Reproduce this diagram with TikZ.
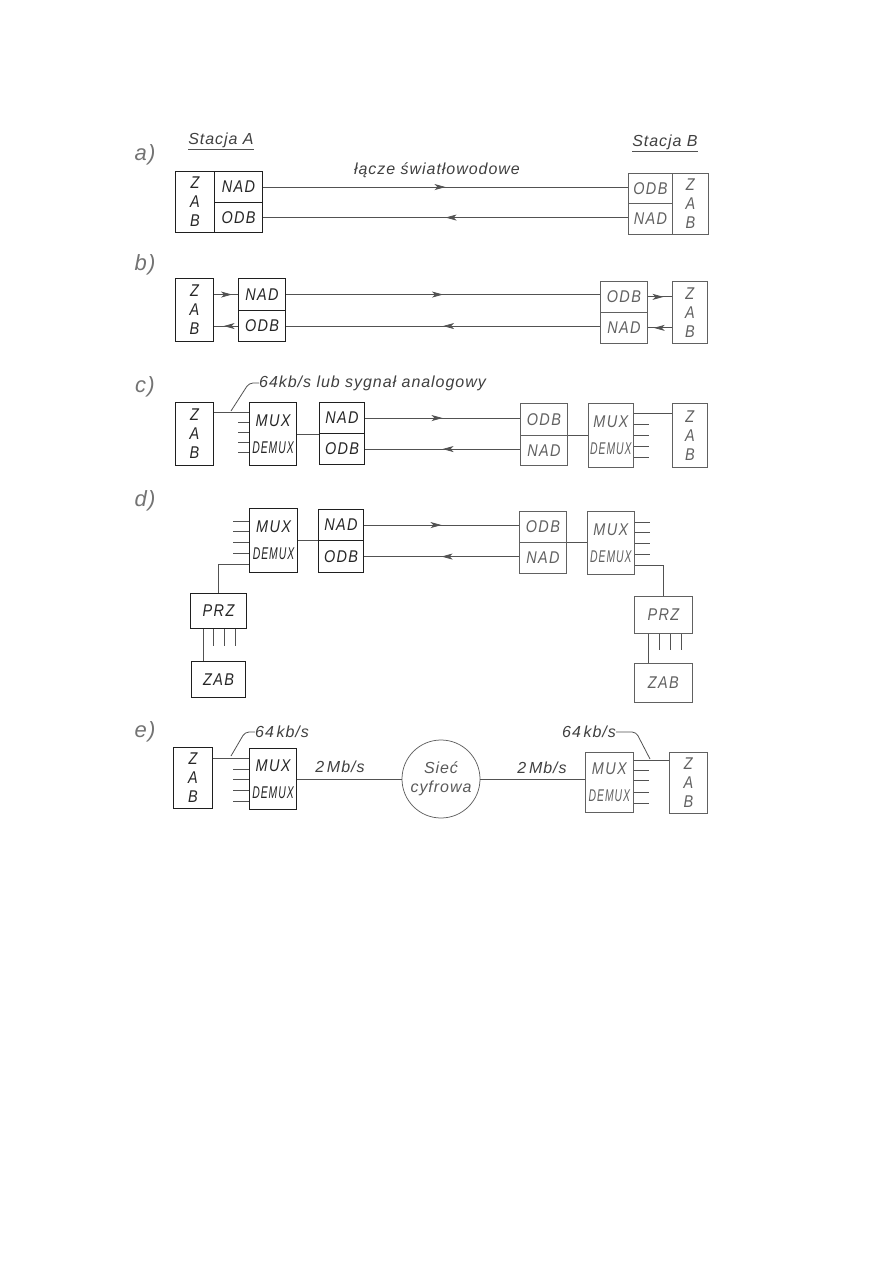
\documentclass[tikz,border=0pt]{standalone}
\usepackage{fontspec}
\usepackage{graphicx}
\setmainfont{Liberation Sans}
\newfontfamily\tf{Liberation Sans}[FakeStretch=0.85,LetterSpace=8]
\newfontfamily\lf{Liberation Sans}[LetterSpace=6]
\usetikzlibrary{arrows.meta,decorations.markings,calc}
\newcommand\dmx{\scalebox{0.72}[1]{DEMUX}}
\tikzset{
  bx/.style={draw=black!80, line width=0.9pt, inner sep=0pt, anchor=north west,
    font=\tf\itshape\fontsize{17}{19}\selectfont, text=black!80},
  bxl/.style={bx, draw=black!88, text=black!85, line width=1.1pt},
  bxr/.style={bx, draw=black!62, text=black!62, line width=0.75pt},
  wire/.style={draw=black!68, line width=0.8pt},
  fwd/.style={wire, postaction={decorate}, decoration={markings,
    mark=at position #1 with {\arrow{Stealth[length=11pt,width=6pt,inset=3pt]}}}},
  bwd/.style={wire, postaction={decorate}, decoration={markings,
    mark=at position #1 with {\arrowreversed{Stealth[length=11pt,width=6pt,inset=3pt]}}}},
  lbl/.style={font=\lf\itshape\fontsize{16}{19}\selectfont, text=black!75, inner sep=0pt},
  sec/.style={font=\lf\itshape\fontsize{22}{24}\selectfont, text=black!55, inner sep=0pt},
}
\begin{document}
\begin{tikzpicture}[x=1pt,y=-1pt]
\fill[white] (0,0) rectangle (893,1263);
\useasboundingbox (0,0) rectangle (893,1263);

% section letters
\node[sec] (la) at (145,155) {a)};
\node[sec] (lb) at (145,265) {b)};
\node[sec] (lc) at (145,387) {c)};
\node[sec] (ld) at (145,501) {d)};
\node[sec] (le) at (145,732) {e)};

% headers
\node[lbl] (stA) at (221,140) {Stacja A};
\draw[wire] ([yshift=-2pt]stA.south west) -- ([yshift=-2pt]stA.south east);
\node[lbl] (stB) at (665,142) {Stacja B};
\draw[wire] ([yshift=-2pt]stB.south west) -- ([yshift=-2pt]stB.south east);

% ---------- a)
\node[bxl,minimum width=39pt,minimum height=61pt,align=center] (aZ) at (175,171) {Z\\A\\B};
\node[bxl,minimum width=48pt,minimum height=31pt] (aN) at (214,171) {NAD};
\node[bxl,minimum width=48pt,minimum height=30pt] (aO) at (214,202) {ODB};
\node[bxr,minimum width=44pt,minimum height=30pt] (aRO) at (628,173) {ODB};
\node[bxr,minimum width=44pt,minimum height=31pt] (aRN) at (628,203) {NAD};
\node[bxr,minimum width=36pt,minimum height=61pt,align=center] (aRZ) at (672,173) {Z\\A\\B};
\node[lbl] (aLink) at (437,170) {łącze światłowodowe};
\draw[fwd=0.5] (aN.east) -- (aN.east -| aRO.west);
\draw[bwd=0.5] (aO.east) -- (aO.east -| aRN.west);

% ---------- b)
\node[bxl,minimum width=38pt,minimum height=63pt,align=center] (bZ) at (175,278) {Z\\A\\B};
\node[bxl,minimum width=47pt,minimum height=32pt] (bN) at (238,278) {NAD};
\node[bxl,minimum width=47pt,minimum height=31pt] (bO) at (238,310) {ODB};
\node[bxr,minimum width=47pt,minimum height=31pt] (bRO) at (600,281) {ODB};
\node[bxr,minimum width=47pt,minimum height=31pt] (bRN) at (600,312) {NAD};
\node[bxr,minimum width=35pt,minimum height=62pt,align=center] (bRZ) at (672,281) {Z\\A\\B};
\draw[fwd=0.75] (bN.west -| bZ.east) -- (bN.west);
\draw[fwd=0.6] (bO.west) -- (bO.west -| bZ.east);
\draw[fwd=0.5] (bN.east) -- (bN.east -| bRO.west);
\draw[bwd=0.5] (bO.east) -- (bO.east -| bRN.west);
\draw[fwd=0.65] (bRO.east) -- (bRO.east -| bRZ.west);
\draw[fwd=0.75] (bRN.east -| bRZ.west) -- (bRN.east);

% ---------- c)
\node[bxl,minimum width=38pt,minimum height=63pt,align=center] (cZ) at (175,402) {Z\\A\\B};
\node[bxl,minimum width=47pt,minimum height=63pt,align=center] (cM) at (249,402) {MUX\\[8pt]\dmx};
\node[bxl,minimum width=45pt,minimum height=31pt] (cN) at (319,402) {NAD};
\node[bxl,minimum width=45pt,minimum height=31pt] (cO) at (319,433) {ODB};
\node[bxr,minimum width=47pt,minimum height=32pt] (cRO) at (520,403) {ODB};
\node[bxr,minimum width=47pt,minimum height=30pt] (cRN) at (520,435) {NAD};
\node[bxr,minimum width=45pt,minimum height=64pt,align=center] (cRM) at (588,403) {MUX\\[8pt]\dmx};
\node[bxr,minimum width=35pt,minimum height=64pt,align=center] (cRZ) at (672,403) {Z\\A\\B};
\coordinate (c1) at ([yshift=-10pt]cM.north west);
\draw[wire] (c1) -- (c1 -| cZ.east);
\foreach \d in {20,30,40,50} \draw[wire] ([yshift=-\d pt]cM.north west) -- ++(-11,0);
\draw[wire] (cM.east) -- (cM.east -| cN.west);
\draw[fwd=0.5] (cN.east) -- (cN.east -| cRO.west);
\draw[bwd=0.5] (cO.east) -- (cO.east -| cRN.west);
\draw[wire] (cRO.south east) -- (cRO.south east -| cRM.west);
\coordinate (c2) at ([yshift=-10pt]cRM.north east);
\draw[wire] (c2) -- (c2 -| cRZ.west);
\foreach \d in {21,32,43,54} \draw[wire] ([yshift=-\d pt]cRM.north east) -- ++(15,0);
\node[lbl,anchor=west] (cL) at (259,383) {64kb/s lub sygnał analogowy};
\coordinate (cLe) at (231,411);
\draw[wire,rounded corners=4pt] (cL.west) -- ++(-10,0) -- (cLe);

% ---------- d)
\node[bxl,minimum width=48pt,minimum height=64pt,align=center] (dM) at (249,508) {MUX\\[8pt]\dmx};
\node[bxl,minimum width=45pt,minimum height=31pt] (dN) at (318,509) {NAD};
\node[bxl,minimum width=45pt,minimum height=32pt] (dO) at (318,540) {ODB};
\node[bxr,minimum width=47pt,minimum height=31pt] (dRO) at (519,511) {ODB};
\node[bxr,minimum width=47pt,minimum height=31pt] (dRN) at (519,542) {NAD};
\node[bxr,minimum width=47pt,minimum height=63pt,align=center] (dRM) at (587,511) {MUX\\[8pt]\dmx};
\node[bxl,minimum width=56pt,minimum height=35pt] (dP) at (190,593) {PRZ};
\node[bxl,minimum width=54pt,minimum height=36pt] (dZ) at (191,661) {ZAB};
\node[bxr,minimum width=58pt,minimum height=37pt] (dRP) at (634,596) {PRZ};
\node[bxr,minimum width=58pt,minimum height=39pt] (dRZ) at (634,663) {ZAB};
\foreach \d in {13,23,34,45} \draw[wire] ([yshift=-\d pt]dM.north west) -- ++(-16,0);
\coordinate (d1) at ([yshift=-56pt]dM.north west);
\draw[wire] (d1) -| (dP.north);
\draw[wire] (dM.east) -- (dM.east -| dN.west);
\draw[fwd=0.5] (dN.east) -- (dN.east -| dRO.west);
\draw[bwd=0.5] (dO.east) -- (dO.east -| dRN.west);
\draw[wire] (dRO.south east) -- (dRO.south east -| dRM.west);
\foreach \d in {11,21,32,43} \draw[wire] ([yshift=-\d pt]dRM.north east) -- ++(15,0);
\coordinate (d2) at ([yshift=-54pt]dRM.north east);
\draw[wire] (d2) -| (dRP.north);
\coordinate (d3) at ([xshift=13pt]dP.south west);
\draw[wire] (d3) -- (d3 |- dZ.north);
\foreach \d in {23,34,45} \draw[wire] ([xshift=\d pt]dP.south west) -- ++(0,17);
\coordinate (d4) at ([xshift=14pt]dRP.south west);
\draw[wire] (d4) -- (d4 |- dRZ.north);
\foreach \d in {25,36,47} \draw[wire] ([xshift=\d pt]dRP.south west) -- ++(0,16);

% ---------- e)
\node[bxl,minimum width=39pt,minimum height=61pt,align=center] (eZ) at (173,747) {Z\\A\\B};
\node[bxl,minimum width=47pt,minimum height=61pt,align=center] (eM) at (249,748) {MUX\\[8pt]\dmx};
\node[circle,draw=black!62,line width=0.75pt,minimum size=78pt,inner sep=0pt,align=center,
  font=\lf\itshape\fontsize{16}{19}\selectfont,text=black!65] (eC) at (441,779) {Sieć\\cyfrowa};
\node[bxr,minimum width=48pt,minimum height=60pt,align=center] (eRM) at (585,752) {MUX\\[8pt]\dmx};
\node[bxr,minimum width=38pt,minimum height=61pt,align=center] (eRZ) at (669,752) {Z\\A\\B};
\coordinate (e1) at ([yshift=-10pt]eM.north west);
\draw[wire] (e1) -- (e1 -| eZ.east);
\foreach \d in {21,31,42,53} \draw[wire] ([yshift=-\d pt]eM.north west) -- ++(-16,0);
\draw[wire] (eC.west) -- (eC.west -| eM.east);
\draw[wire] (eC.east) -- (eC.east -| eRM.west);
\coordinate (e2) at ([yshift=-8pt]eRM.north east);
\draw[wire] (e2) -- (e2 -| eRZ.west);
\foreach \d in {18,28,40,51} \draw[wire] ([yshift=-\d pt]eRM.north east) -- ++(15,0);
\node[lbl] (eRa) at (340,767) {2\,Mb/s};
\node[lbl] (eRb) at (542,768) {2\,Mb/s};
\node[lbl,anchor=west] (e64a) at (255,732) {64\,kb/s};
\coordinate (eLa) at (231,756);
\draw[wire,rounded corners=4pt] (e64a.west) -- ++(-10,0) -- (eLa);
\node[lbl] (e64b) at (589,732) {64\,kb/s};
\coordinate (eLb) at (650,759);
\draw[wire,rounded corners=4pt] (e64b.east) -- ++(20,0) -- (eLb);
\end{tikzpicture}
\end{document}
